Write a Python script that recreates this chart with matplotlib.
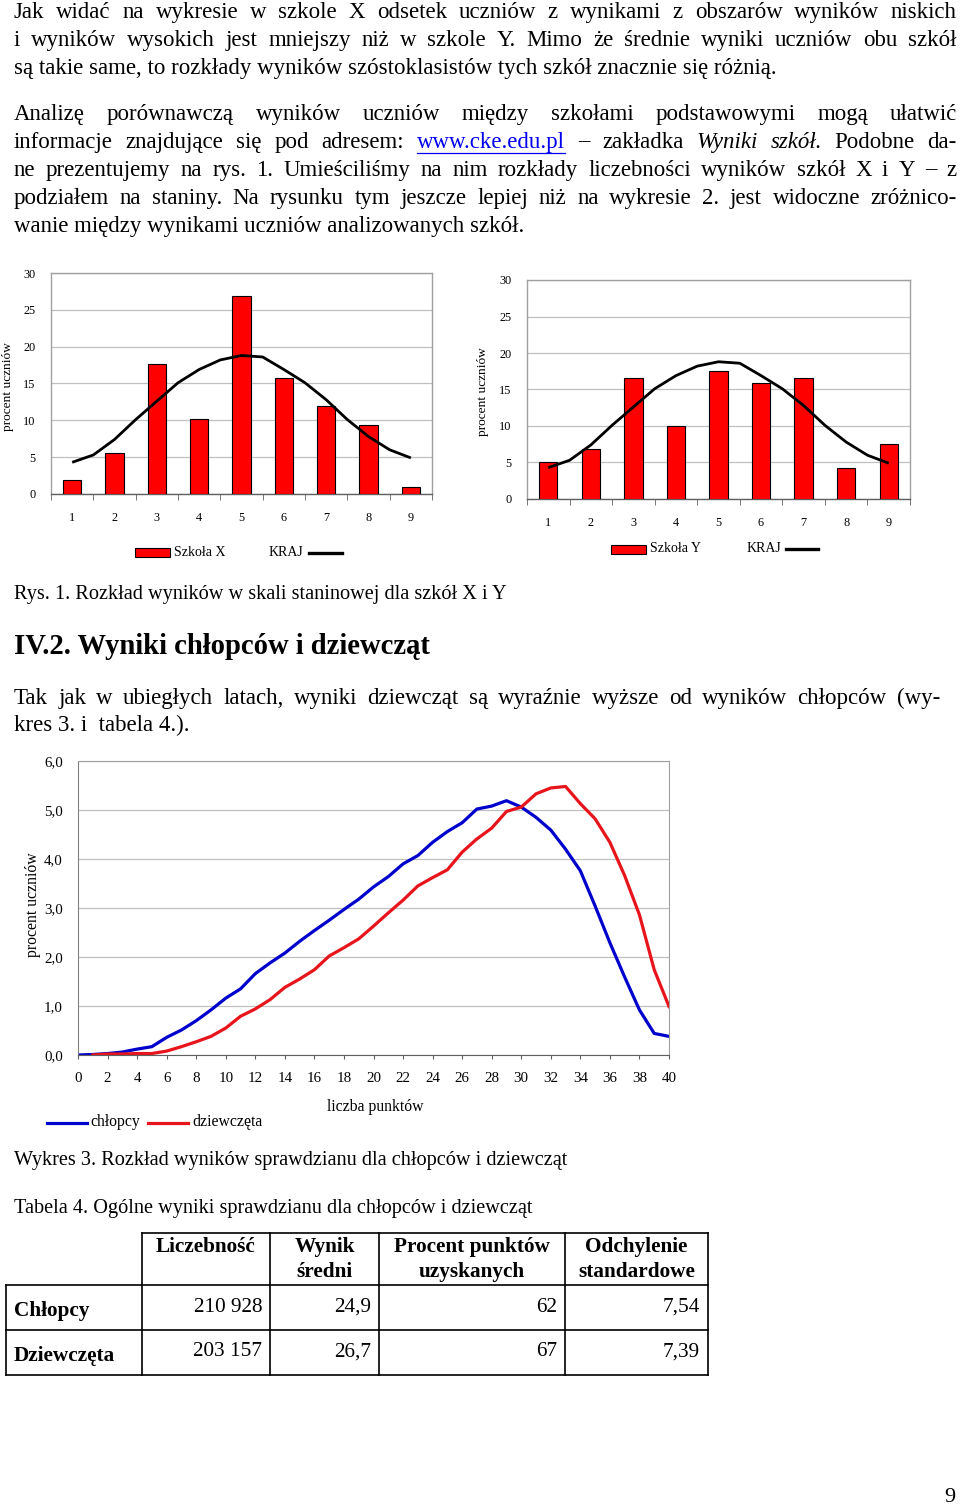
import matplotlib
matplotlib.use("Agg")
import matplotlib.pyplot as plt
from matplotlib.patches import Rectangle

plt.rcParams["font.family"] = ["Liberation Serif", "DejaVu Serif"]

# ---- data ----
stanines = [1, 2, 3, 4, 5, 6, 7, 8, 9]
szkola_x = [1.9, 5.6, 17.7, 10.2, 26.9, 15.7, 12.0, 9.3, 1.0]
szkola_y = [5.0, 6.8, 16.6, 10.0, 17.5, 15.9, 16.6, 4.2, 7.5]
kraj_x = [1, 1.5, 2, 2.5, 3, 3.5, 4, 4.5, 5, 5.5, 6, 6.5, 7, 7.5, 8, 8.5, 9]
kraj_y = [4.3, 5.3, 7.4, 10.1, 12.6, 15.1, 16.9, 18.2, 18.8, 18.6, 16.9, 15.1, 12.8, 10.1, 7.8, 6.0, 4.9]

punkty = list(range(0, 41))
chlopcy = [0.0, 0.01, 0.03, 0.06, 0.12, 0.17, 0.36, 0.51, 0.70, 0.92, 1.16, 1.35, 1.66, 1.88,
           2.08, 2.32, 2.54, 2.75, 2.97, 3.18, 3.43, 3.64, 3.90, 4.07, 4.34, 4.56, 4.74, 5.02,
           5.08, 5.19, 5.06, 4.85, 4.59, 4.20, 3.76, 3.04, 2.29, 1.59, 0.92, 0.44, 0.38]
punkty_dz = list(range(1, 41))
dziewczeta = [0.0, 0.02, 0.02, 0.03, 0.03, 0.08, 0.17, 0.27, 0.38, 0.55, 0.79, 0.94, 1.13,
              1.38, 1.55, 1.74, 2.02, 2.19, 2.37, 2.63, 2.90, 3.16, 3.45, 3.62, 3.78, 4.14,
              4.41, 4.63, 4.97, 5.06, 5.33, 5.45, 5.48, 5.13, 4.82, 4.34, 3.66, 2.86, 1.74, 0.99]

tab_header = [["Liczebność"], ["Wynik", "średni"], ["Procent punktów", "uzyskanych"],
              ["Odchylenie", "standardowe"]]
tab_rows = ["Chłopcy", "Dziewczęta"]
tab_values = [["210 928", "24,9", "62", "7,54"],
              ["203 157", "26,7", "67", "7,39"]]

W, H = 960, 1506
fig = plt.figure(figsize=(9.6, 15.06), dpi=100)
bg = fig.add_axes([0, 0, 1, 1])
bg.set_xlim(0, W)
bg.set_ylim(H, 0)
bg.axis("off")
renderer = fig.canvas.get_renderer()

BODY = 16.5
CAPT = 14.6


def words(s, **style):
    return [(w, style) for w in s.split()]


def justify(y, tokens, x0=14, x1=957, size=BODY):
    texts = [bg.text(x0, y, w, fontsize=size, va="center", ha="left", **st) for w, st in tokens]
    widths = [t.get_window_extent(renderer).width for t in texts]
    gap = (x1 - x0 - sum(widths)) / (len(texts) - 1)
    x = x0
    xs = []
    for t, w in zip(texts, widths):
        t.set_x(x)
        xs.append(x)
        x += w + gap
    return xs, widths


def line(y, s, x0=14, size=BODY, **kw):
    bg.text(x0, y, s, fontsize=size, va="center", ha="left", **kw)


# ---- body text ----
justify(12, words("Jak widać na wykresie w szkole X odsetek uczniów z wynikami z obszarów wyników niskich"))
justify(40, words("i wyników wysokich jest mniejszy niż w szkole Y. Mimo że średnie wyniki uczniów obu szkół"))
line(68, "są takie same, to rozkłady wyników szóstoklasistów tych szkół znacznie się różnią.")

justify(114, words("Analizę porównawczą wyników uczniów między szkołami podstawowymi mogą ułatwić"))
link = {"color": "#0000ee"}
it = {"style": "italic"}
toks = (words("informacje znajdujące się pod adresem:") + [("www.cke.edu.pl", link)]
        + words("– zakładka") + words("Wyniki szkół.", **it) + words("Podobne da-"))
xs, ws = justify(142, toks)
bg.plot([xs[5], xs[5] + ws[5]], [153, 153], color="#0000ee", lw=0.9)
justify(170, words("ne prezentujemy na rys. 1. Umieściliśmy na nim rozkłady liczebności wyników szkół X i Y – z"))
justify(198, words("podziałem na staniny. Na rysunku tym jeszcze lepiej niż na wykresie 2. jest widoczne zróżnico-"))
line(226, "wanie między wynikami uczniów analizowanych szkół.")


# ---- stanine charts ----
def stanine_chart(l, r, t, b, vals):
    ax = fig.add_axes([l / W, 1 - b / H, (r - l) / W, (b - t) / H])
    ax.bar(stanines, vals, width=0.43, color="#ff0000", edgecolor="black", linewidth=0.8, zorder=3)
    ax.plot(kraj_x, kraj_y, color="black", lw=2.0, zorder=4, solid_capstyle="butt")
    ax.set_xlim(0.5, 9.5)
    ax.set_ylim(0, 30)
    ax.set_yticks(range(0, 31, 5))
    ax.set_xticks(stanines)
    ax.set_xticks([i + 0.5 for i in range(0, 10)], minor=True)
    ax.yaxis.grid(True, color="#c0c0c0", lw=0.9)
    ax.set_axisbelow(True)
    for s in ax.spines.values():
        s.set_color("#a0a0a0")
        s.set_linewidth(1.0)
    ax.spines["bottom"].set_color("#606060")
    ax.tick_params(axis="x", which="major", length=0, labelsize=8.8, pad=13)
    ax.tick_params(axis="x", which="minor", length=4, color="#606060")
    ax.tick_params(axis="y", length=0, labelsize=8.8, pad=11)
    return ax


stanine_chart(51, 432, 273, 494, szkola_x)
stanine_chart(527, 910, 280, 499, szkola_y)

bg.text(8, 387, "procent uczniów", rotation=90, fontsize=9.6, ha="center", va="center")
bg.text(483, 392, "procent uczniów", rotation=90, fontsize=9.6, ha="center", va="center")

bg.add_patch(Rectangle((135, 548), 35, 9, facecolor="#ff0000", edgecolor="black", lw=0.8))
bg.text(174, 552, "Szkoła X", fontsize=10, va="center")
bg.text(269, 552, "KRAJ", fontsize=10, va="center")
bg.plot([309, 342], [553, 553], color="black", lw=2.4)

bg.add_patch(Rectangle((611, 545), 35, 9, facecolor="#ff0000", edgecolor="black", lw=0.8))
bg.text(650, 548, "Szkoła Y", fontsize=10, va="center")
bg.text(747, 548, "KRAJ", fontsize=10, va="center")
bg.plot([786, 818], [549, 549], color="black", lw=2.4)

line(594, "Rys. 1. Rozkład wyników w skali staninowej dla szkół X i Y", size=CAPT)
line(646, "IV.2. Wyniki chłopców i dziewcząt", size=20.6, weight="bold")

justify(698, words("Tak jak w ubiegłych latach, wyniki dziewcząt są wyraźnie wyższe od wyników chłopców (wy-"),
        x1=940)
line(725, "kres 3. i  tabela 4.).")

# ---- line chart ----
ax3 = fig.add_axes([78 / W, 1 - 1055 / H, 591 / W, 294 / H])
ax3.plot(punkty, chlopcy, color="#0000cc", lw=2.3)
ax3.plot(punkty_dz, dziewczeta, color="#e8141c", lw=2.3)
ax3.set_xlim(0, 40)
ax3.set_ylim(0, 6)
ax3.set_xticks(range(0, 41, 2))
ax3.set_yticks(range(0, 7))
ax3.set_yticklabels([f"{v},0" for v in range(0, 7)])
ax3.yaxis.grid(True, color="#c0c0c0", lw=0.9)
ax3.set_axisbelow(True)
for s in ax3.spines.values():
    s.set_color("#a0a0a0")
ax3.spines["bottom"].set_color("#606060")
ax3.spines["left"].set_color("#808080")
ax3.tick_params(axis="x", length=3, color="#606060", labelsize=10.8, pad=9)
ax3.tick_params(axis="y", length=0, labelsize=10.8, pad=11)

bg.text(33, 905, "procent uczniów", rotation=90, fontsize=11.3, ha="center", va="center")
bg.text(375, 1107, "liczba punktów", fontsize=11.3, ha="center", va="center")
bg.plot([47, 87], [1123, 1123], color="#0000cc", lw=2.3)
bg.text(90, 1122, "chłopcy", fontsize=11.3, va="center")
bg.plot([148, 188], [1123, 1123], color="#e8141c", lw=2.3)
bg.text(192, 1122, "dziewczęta", fontsize=11.3, va="center")

line(1161, "Wykres 3. Rozkład wyników sprawdzianu dla chłopców i dziewcząt", size=CAPT)
line(1208, "Tabela 4. Ogólne wyniki sprawdzianu dla chłopców i dziewcząt", size=CAPT)

# ---- table ----
cols = [142, 270, 379, 565, 708]
rows = [1233, 1285, 1330, 1375]
lw = 1.2
bg.plot([cols[0], cols[-1]], [rows[0], rows[0]], color="black", lw=lw)
for y in rows[1:]:
    bg.plot([6, cols[-1]], [y, y], color="black", lw=lw)
bg.plot([6, 6], [rows[1], rows[-1]], color="black", lw=lw)
for x in cols:
    bg.plot([x, x], [rows[0], rows[-1]], color="black", lw=lw)

for i, hdr in enumerate(tab_header):
    cx = (cols[i] + cols[i + 1]) / 2
    for j, txt in enumerate(hdr):
        bg.text(cx, 1247 + 25 * j, txt, fontsize=15.3, weight="bold", ha="center", va="center")

for r, (lab, vals) in enumerate(zip(tab_rows, tab_values)):
    yc = 1309 + 45 * r
    bg.text(14, yc + 2, lab, fontsize=15.3, weight="bold", ha="left", va="center")
    for i, v in enumerate(vals):
        bg.text(cols[i + 1] - 8, yc - 2, v, fontsize=15.3, ha="right", va="center")

bg.text(950, 1497, "9", fontsize=16, ha="center", va="center")

fig.savefig("out.png", dpi=100, facecolor="white")
